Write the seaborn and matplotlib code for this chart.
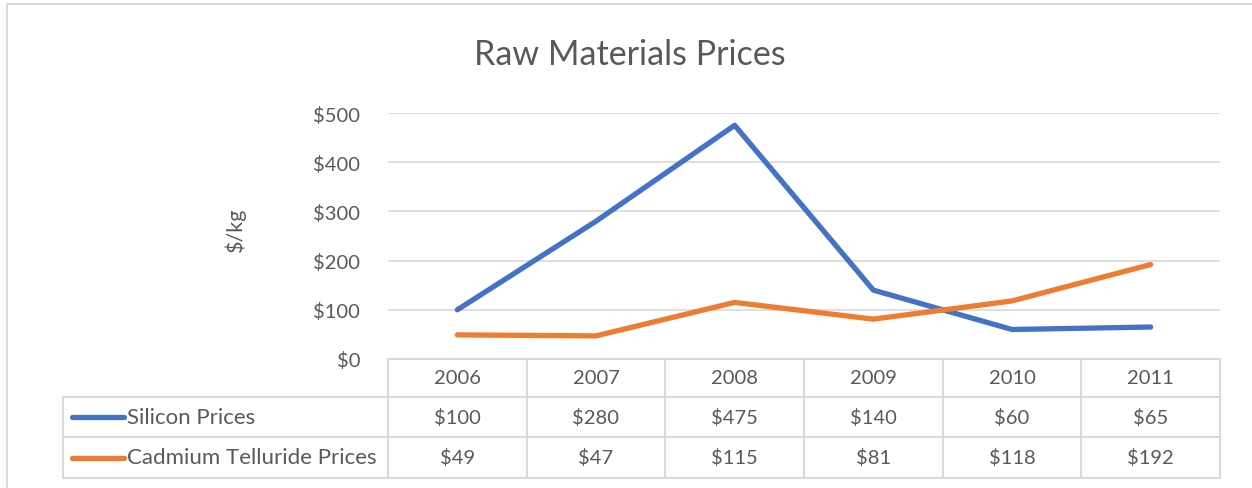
import pandas as pd
import seaborn as sns
import matplotlib.pyplot as plt
from matplotlib.lines import Line2D
from matplotlib import transforms

years = ['2006', '2007', '2008', '2009', '2010', '2011']
silicon = [100, 280, 475, 140, 60, 65]
cadmium = [49, 47, 115, 81, 118, 192]
series_names = ['Silicon Prices', 'Cadmium Telluride Prices']
colors = ['#4472C4', '#ED7D31']

df = pd.DataFrame({
    'pos': list(range(len(years))) * 2,
    'price': silicon + cadmium,
    'series': [series_names[0]] * len(years) + [series_names[1]] * len(years),
})

sns.set_theme(style='white')
plt.rcParams['font.family'] = ['Lato', 'DejaVu Sans']
txt = '#595959'
grid = '#D9D9D9'

W, H = 1252, 489
fig = plt.figure(figsize=(W / 100, H / 100), dpi=100)
fig.patch.set_facecolor('white')

def fx(px):
    return px / W

def fy(py):
    return 1 - py / H

left, right, top, bottom = 388, 1220, 114, 360
ax = fig.add_axes([fx(left), fy(bottom), fx(right - left), (bottom - top) / H])

sns.lineplot(data=df, x='pos', y='price', hue='series', palette=colors,
             linewidth=3.8, ax=ax, legend=False, solid_capstyle='round')

ax.set_xlim(-0.5, len(years) - 0.5)
ax.set_ylim(0, 500)
ax.set_yticks(range(0, 501, 100))
ax.set_yticklabels([f'${v}' for v in range(0, 501, 100)], color=txt, fontsize=14.5)
ax.set_xticks([])
ax.set_xlabel('')
ax.set_ylabel('')
ax.tick_params(axis='y', length=0, pad=20)
for v in range(100, 501, 100):
    ax.axhline(v, color=grid, lw=1.2, zorder=0)
for s in ax.spines.values():
    s.set_visible(False)

fig.text(fx(235), fy(230), '$/kg', rotation=90, ha='center', va='center',
         color=txt, fontsize=15.5)
fig.text(fx(630), fy(55), 'Raw Materials Prices', ha='center', va='center',
         color=txt, fontsize=24.5)

# outer chart frame
fig.add_artist(Line2D([fx(7), fx(7)], [fy(5), fy(489)], color=grid, lw=1.5))
fig.add_artist(Line2D([fx(7), fx(1252)], [fy(5), fy(5)], color=grid, lw=1.5))

# data table
rows = [360, 398, 438, 479]
col_w = (right - left) / len(years)
tab_left = 63
for i, r in enumerate(rows):
    x0 = left if i == 0 else tab_left
    fig.add_artist(Line2D([fx(x0), fx(right)], [fy(r), fy(r)], color=grid, lw=1.5))
fig.add_artist(Line2D([fx(tab_left), fx(tab_left)], [fy(rows[1]), fy(rows[3])], color=grid, lw=1.5))
for j in range(len(years) + 1):
    x = left + j * col_w
    fig.add_artist(Line2D([fx(x), fx(x)], [fy(rows[0]), fy(rows[3])], color=grid, lw=1.5))

trans = transforms.blended_transform_factory(ax.transData, fig.transFigure)
table_vals = [years, [f'${v}' for v in silicon], [f'${v}' for v in cadmium]]
for i, vals in enumerate(table_vals):
    yc = fy((rows[i] + rows[i + 1]) / 2)
    for j, v in enumerate(vals):
        fig.text(j, yc, v, transform=trans, ha='center', va='center',
                 color=txt, fontsize=14.5)

for i, (name, c) in enumerate(zip(series_names, colors)):
    yc = fy((rows[i + 1] + rows[i + 2]) / 2)
    fig.add_artist(Line2D([fx(72), fx(124)], [yc, yc], color=c, lw=3.8,
                          solid_capstyle='round'))
    fig.text(fx(127), yc, name, ha='left', va='center', color=txt, fontsize=16)

fig.savefig('out.png', dpi=100)
